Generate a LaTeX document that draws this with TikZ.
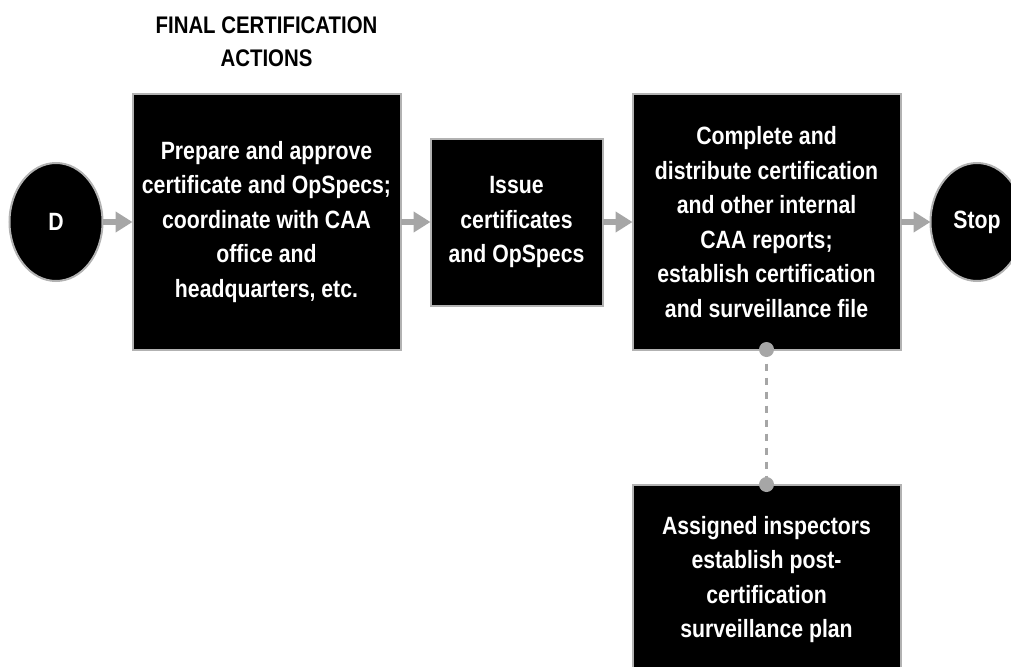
\documentclass[tikz,border=0pt]{standalone}
\usepackage{fontspec}
\setmainfont{Liberation Sans}[FakeStretch=0.85]
\usetikzlibrary{arrows.meta,chains,positioning,shapes.geometric}
\newcommand\boxfont{\bfseries\fontsize{25}{34.5}\selectfont}
\newcommand\headfont{\bfseries\fontsize{24}{33}\selectfont}

\begin{document}
\begin{tikzpicture}[x=1pt, y=1pt,
node distance=30pt,
 start chain = A going right,
    plain/.style = {rectangle, draw=gray!60, line width=2pt,% black process boxes
                fill=black, text=white, align=center,
                inner sep=0pt, outer sep=0pt, font=\boxfont},
      box/.style = {plain, on chain},
     term/.style = {ellipse, draw=gray!60, line width=2pt,% start / stop ends
                fill=black, text=white, minimum width=93pt, minimum height=118pt,
                inner sep=0pt, outer sep=0pt, font=\boxfont, on chain},
       go/.style = {draw=gray!70, line width=5.5pt, -{Triangle[length=17pt,width=20pt]}},
     dots/.style = {draw=gray!70, line width=3.5pt, dash pattern=on 7pt off 7pt},
      dot/.style = {circle, fill=gray!70, minimum size=15pt, inner sep=0pt},
                        ]
\useasboundingbox (0,0) rectangle (1011,-666);
\node[term] at (56,-222) {D};
\node[box, minimum width=268pt, minimum height=255pt]
    {Prepare and approve\\certificate and OpSpecs;\\coordinate with CAA\\office and\\headquarters, etc.};
\node[box, minimum width=172pt, minimum height=167pt]
    {Issue\\certificates\\and OpSpecs};
\node[box, minimum width=268pt, minimum height=255pt]
    {Complete and\\distribute certification\\and other internal\\CAA reports;\\establish certification\\and surveillance file};
\node[term] {Stop};
\foreach \i [evaluate=\i as \j using int(\i+1)] in {1,...,4}% <-- flow arrows
    \draw[go] (A-\i) -- (A-\j);
\node[plain, below=135pt of A-4, minimum width=268pt, minimum height=190pt] (plan)
    {Assigned inspectors\\establish post-\\certification\\surveillance plan};
\node[font=\headfont, align=center, above=24pt of A-2] (title)
    {FINAL CERTIFICATION\\ACTIONS};
\draw[dots] (A-4.south) -- (plan.north);
\node[dot] (top) at (A-4.south) {};
\node[dot] (bot) at (plan.north) {};
\end{tikzpicture}
\end{document}
